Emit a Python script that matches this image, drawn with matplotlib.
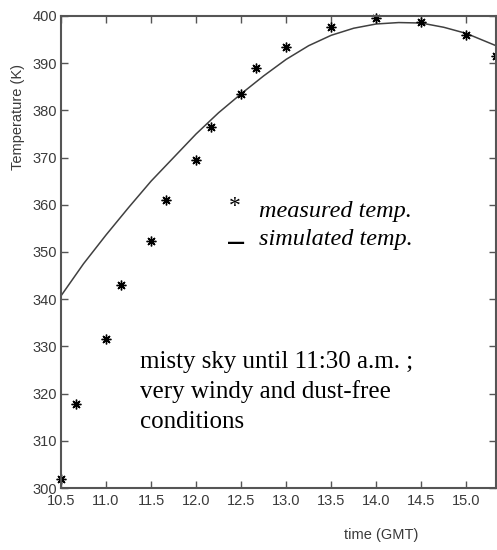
import matplotlib
matplotlib.use("Agg")
import matplotlib.pyplot as plt

# measured temperature (K) vs time (GMT, decimal hours)
meas_time = [10.5, 10.67, 11.0, 11.17, 11.5, 11.67, 12.0, 12.17, 12.5, 12.67,
             13.0, 13.5, 14.0, 14.5, 15.0, 15.33]
meas_temp = [301.9, 317.8, 331.5, 343.0, 352.4, 361.1, 369.5, 376.5, 383.4, 389.0,
             393.4, 397.7, 399.5, 398.7, 396.0, 391.5]

# simulated temperature curve
sim_time = [10.5, 10.75, 11.0, 11.25, 11.5, 11.75, 12.0, 12.25, 12.5, 12.75,
            13.0, 13.25, 13.5, 13.75, 14.0, 14.25, 14.5, 14.75, 15.0, 15.33]
sim_temp = [340.7, 347.5, 353.6, 359.4, 365.0, 370.0, 375.0, 379.5, 383.5, 387.3,
            390.8, 393.7, 395.9, 397.4, 398.3, 398.6, 398.5, 397.6, 396.3, 393.7]

xticks = [10.5, 11.0, 11.5, 12.0, 12.5, 13.0, 13.5, 14.0, 14.5, 15.0]
yticks = [300, 310, 320, 330, 340, 350, 360, 370, 380, 390, 400]

note_lines = ["misty sky until 11:30 a.m. ;", "very windy and dust-free", "conditions"]

sans = "Liberation Sans"
serif = "Liberation Serif"
grey = "#555555"

fig = plt.figure(figsize=(4.97, 5.5), dpi=100)
ax = fig.add_axes([0.1227, 0.1127, 0.8753, 0.8583])

ax.plot(sim_time, sim_temp, color="#404040", lw=1.1)
ax.plot(meas_time, meas_temp, ls="none", marker=(8, 2, 0), ms=7, mew=1.0,
        color="black", clip_on=False)

ax.set_xlim(10.5, 15.33)
ax.set_ylim(300, 400)
ax.set_xticks(xticks)
ax.set_xticklabels(["%.1f" % t for t in xticks])
ax.set_yticks(yticks)
ax.tick_params(direction="in", top=True, right=True, length=5, width=1,
               color=grey, labelcolor="#3a3a3a", labelsize=10.5, pad=3)
ax.tick_params(axis="x", pad=4.5)
for lab in ax.get_xticklabels() + ax.get_yticklabels():
    lab.set_family(sans)
for sp in ax.spines.values():
    sp.set_color(grey)
    sp.set_linewidth(1.5)

fig.text(18 / 497, 1 - 117 / 550, "Temperature (K)", fontsize=10.5, family=sans,
         color="#3a3a3a", rotation=90, ha="center", va="center")
fig.text(381 / 497, 1 - 535 / 550, "time (GMT)", fontsize=10.5, family=sans,
         color="#3a3a3a", ha="center", va="center")

# legend drawn as text
fig.text(235 / 497, 1 - 207 / 550, "*", fontsize=17, family=serif, ha="center",
         va="center")
fig.text(259 / 497, 1 - 217 / 550, "measured temp.", fontsize=17.5, family=serif,
         style="italic", ha="left", va="baseline")
fig.text(236 / 497, 1 - 243 / 550, "\u2014", fontsize=13, family="DejaVu Sans",
         ha="center", va="center", weight="bold")
fig.text(259 / 497, 1 - 245 / 550, "simulated temp.", fontsize=17.5, family=serif,
         style="italic", ha="left", va="baseline")

for i, line in enumerate(note_lines):
    fig.text(140 / 497, 1 - (368 + 30 * i) / 550, line, fontsize=18,
             family=serif, ha="left", va="baseline")

fig.savefig("out.png", dpi=100)
